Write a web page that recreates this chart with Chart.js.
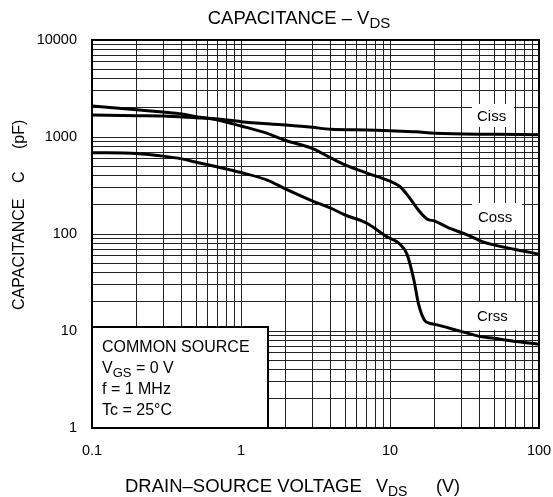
<!DOCTYPE html>
<html>
<head>
<meta charset="utf-8">
<title>Capacitance - VDS</title>
<script src="https://cdn.jsdelivr.net/npm/chart.js@4.4.1/dist/chart.umd.min.js"></script>
<style>
  html, body { margin: 0; padding: 0; background: #fff; }
  #wrap { width: 553px; height: 497px; }
</style>
</head>
<body>
<div id="wrap"><canvas id="capChart" width="553" height="497"></canvas></div>
<script>
// values (log-log), VDS in V, C in pF
const cissVds = [0.1, 0.2, 0.3, 0.5, 0.7, 1, 2, 3, 4, 7, 10, 15, 20, 50, 100];
const cissCap = [1690, 1660, 1645, 1580, 1535, 1440, 1330, 1260, 1200, 1180, 1160, 1130, 1090, 1065, 1055];

const cossVds = [0.1, 0.2, 0.3, 0.4, 0.5, 0.7, 1, 1.5, 2, 3, 4, 5, 7, 10, 11.7, 13.6, 15.5, 17.7, 20, 25, 33, 42, 54, 73, 100];
const cossCap = [2090, 1910, 1810, 1730, 1620, 1500, 1300, 1090, 920, 765, 610, 515, 425, 350, 307, 233, 177, 143, 136, 115, 98, 83, 75, 68, 62];

const crssVds = [0.1, 0.2, 0.3, 0.4, 0.5, 0.7, 1, 1.5, 2, 3, 4, 5, 7, 9.5, 11.5, 13, 14.5, 15.5, 17, 18.5, 20, 30, 40, 50, 70, 100];
const crssCap = [690, 675, 635, 595, 550, 490, 430, 360, 290, 220, 185, 157, 129, 94, 80, 62, 33, 19.3, 13, 12, 11.7, 9.9, 8.8, 8.4, 7.8, 7.3];

const xDecades = [0.1, 1, 10, 100];
const yDecades = [1, 10, 100, 1000, 10000];

const curveNames = ['Ciss', 'Coss', 'Crss'];
const conditionLines = ['COMMON SOURCE', 'VGS = 0 V', 'f = 1 MHz', 'Tc = 25°C'];

const FONT = '"Liberation Sans", Arial, Helvetica, sans-serif';

function toPoints(xs, ys) {
    return xs.map((x, i) => ({ x: x, y: ys[i] }));
}

// 1..9 per decade, for the log grid
function logGrid(decades) {
    const out = [];
    decades.forEach((d, i) => {
        if (i === decades.length - 1) { out.push(d); return; }
        for (let k = 1; k <= 9; k++) out.push(d * k);
    });
    return out;
}

function isDecade(v) {
    const l = Math.log10(v);
    return Math.abs(l - Math.round(l)) < 1e-9;
}

// text with subscripts: parts = [[text, isSub], ...]
function partsWidth(ctx, parts, size) {
    let w = 0;
    parts.forEach(([t, sub]) => {
        ctx.font = (sub ? Math.round(size * 0.8) : size) + 'px ' + FONT;
        w += ctx.measureText(t).width;
    });
    return w;
}

function drawParts(ctx, parts, x, y, size) {
    let cx = x;
    parts.forEach(([t, sub]) => {
        ctx.font = (sub ? Math.round(size * 0.8) : size) + 'px ' + FONT;
        ctx.fillText(t, cx, y + (sub ? Math.round(size * 0.22) : 0));
        cx += ctx.measureText(t).width;
    });
}

const curveLabelBoxes = [
    { text: curveNames[0], box: [472, 104, 42, 23], tx: 477, ty: 121 },
    { text: curveNames[1], box: [472, 203, 50, 27], tx: 478, ty: 222 },
    { text: curveNames[2], box: [462, 302, 60, 28], tx: 477, ty: 321 }
];

const decorPlugin = {
    id: 'decor',
    beforeDatasetsDraw(chart) {
        const ctx = chart.ctx;
        ctx.save();
        curveLabelBoxes.forEach(l => {
            ctx.fillStyle = '#fff';
            ctx.fillRect(l.box[0], l.box[1], l.box[2], l.box[3]);
            ctx.fillStyle = '#000';
            ctx.font = '15px ' + FONT;
            ctx.textBaseline = 'alphabetic';
            ctx.textAlign = 'left';
            ctx.fillText(l.text, l.tx, l.ty);
        });
        ctx.restore();
    },
    afterDraw(chart) {
        const ctx = chart.ctx;
        const a = chart.chartArea;
        ctx.save();
        ctx.fillStyle = '#000';
        ctx.textBaseline = 'alphabetic';
        ctx.textAlign = 'left';

        // condition box, bottom-left corner
        ctx.fillStyle = '#fff';
        ctx.fillRect(a.left, 327, 268 - a.left, a.bottom - 327);
        ctx.strokeStyle = '#000';
        ctx.lineWidth = 2;
        ctx.strokeRect(a.left, 327, 268 - a.left, a.bottom - 327);
        ctx.fillStyle = '#000';
        drawParts(ctx, [[conditionLines[0], false]], 102, 351.5, 16);
        drawParts(ctx, [['V', false], ['GS', true], [' = 0 V', false]], 102, 372.5, 16);
        drawParts(ctx, [[conditionLines[2], false]], 102, 393.5, 16);
        drawParts(ctx, [[conditionLines[3], false]], 102, 414.5, 16);

        // plot frame
        ctx.lineWidth = 2;
        ctx.strokeRect(a.left, a.top, a.right - a.left, a.bottom - a.top);

        // title
        const title = [['CAPACITANCE – V', false], ['DS', true]];
        const tw = partsWidth(ctx, title, 18.5);
        drawParts(ctx, title, 299 - tw / 2, 24, 18.5);

        // x axis title
        drawParts(ctx, [['DRAIN–SOURCE VOLTAGE', false]], 125, 492, 18.5);
        drawParts(ctx, [['V', false], ['DS', true]], 376, 492, 18);
        drawParts(ctx, [['(V)', false]], 436, 492, 18);

        // y axis title, rotated
        const ySeg = [['CAPACITANCE', 310], ['C', 183], ['(pF)', 149]];
        ctx.font = '16px ' + FONT;
        ySeg.forEach(([t, y0]) => {
            ctx.save();
            ctx.translate(24, y0);
            ctx.rotate(-Math.PI / 2);
            ctx.fillText(t, 0, 0);
            ctx.restore();
        });
        ctx.restore();
    }
};

const lineStyle = {
    borderColor: '#000',
    borderWidth: 3,
    pointRadius: 0,
    fill: false,
    cubicInterpolationMode: 'monotone'
};

new Chart(document.getElementById('capChart').getContext('2d'), {
    type: 'line',
    data: {
        datasets: [
            Object.assign({ label: curveNames[0], data: toPoints(cissVds, cissCap) }, lineStyle),
            Object.assign({ label: curveNames[1], data: toPoints(cossVds, cossCap) }, lineStyle),
            Object.assign({ label: curveNames[2], data: toPoints(crssVds, crssCap) }, lineStyle)
        ]
    },
    options: {
        responsive: false,
        animation: false,
        layout: { padding: { top: 40, right: 14, left: 0, bottom: 0 } },
        plugins: {
            legend: { display: false },
            tooltip: { enabled: false }
        },
        scales: {
            x: {
                type: 'logarithmic',
                min: 0.1,
                max: 100,
                afterBuildTicks: s => { s.ticks = logGrid(xDecades).map(v => ({ value: v })); },
                afterFit: s => { s.height = 69; s.paddingLeft = 0; s.paddingRight = 0; },
                grid: { color: '#222', lineWidth: 1, drawTicks: false },
                border: { color: '#000', width: 2 },
                ticks: {
                    autoSkip: false,
                    maxRotation: 0,
                    padding: 14,
                    color: '#000',
                    font: { family: FONT, size: 14.5 },
                    callback: v => isDecade(v) ? String(+v.toPrecision(3)) : ''
                }
            },
            y: {
                type: 'logarithmic',
                min: 1,
                max: 10000,
                afterBuildTicks: s => { s.ticks = logGrid(yDecades).map(v => ({ value: v })); },
                afterFit: s => { s.width = 92; s.paddingTop = 0; s.paddingBottom = 0; },
                grid: { color: '#222', lineWidth: 1, drawTicks: false },
                border: { color: '#000', width: 2 },
                ticks: {
                    autoSkip: false,
                    padding: 15,
                    color: '#000',
                    font: { family: FONT, size: 14.5 },
                    callback: v => isDecade(v) ? String(+v.toPrecision(3)) : ''
                }
            }
        }
    },
    plugins: [decorPlugin]
});
</script>
</body>
</html>
